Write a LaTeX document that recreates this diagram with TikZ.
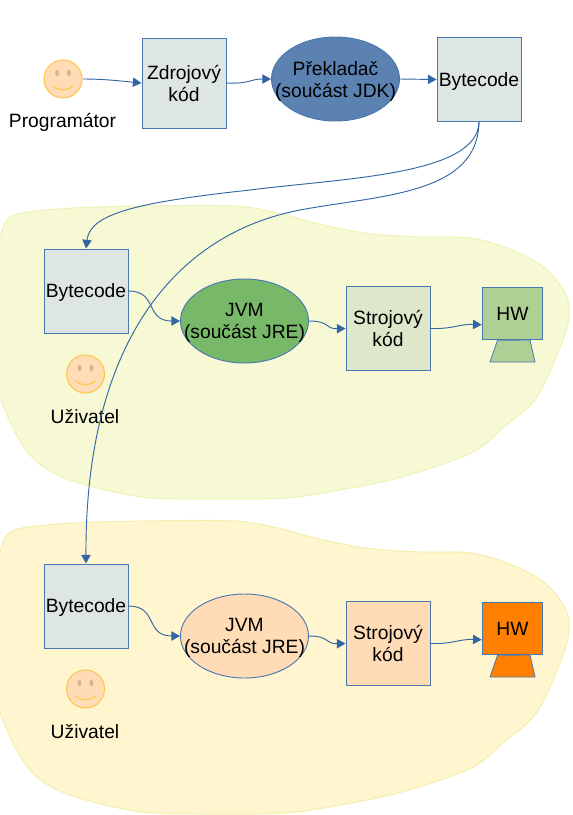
\documentclass[tikz,border=0pt]{standalone}
\usepackage{fontspec}
\setmainfont{Liberation Sans}
\usetikzlibrary{arrows.meta,shapes.geometric}
\definecolor{edgeblue}{HTML}{3465A4}
\definecolor{boxedge}{HTML}{4A78AE}
\definecolor{boxgrey}{HTML}{DEE6E5}
\definecolor{ellblue}{HTML}{5B82B0}
\definecolor{ellgreen}{HTML}{77B968}
\definecolor{hwgreen}{HTML}{AFD095}
\definecolor{sgreen}{HTML}{DDE8CB}
\definecolor{peach}{HTML}{FFDBB6}
\definecolor{hworange}{HTML}{FF8000}
\definecolor{blobA}{HTML}{F6F9D4}
\definecolor{blobAe}{HTML}{EEF3B8}
\definecolor{blobB}{HTML}{FFF5CE}
\definecolor{blobBe}{HTML}{F3EFB0}
\definecolor{facefill}{HTML}{FFDBB6}
\definecolor{faceedge}{HTML}{FFC64D}
\definecolor{eyecol}{HTML}{D8B48C}
\tikzset{
  x=0.75pt,y=-0.75pt,
  lab/.style={font=\fontsize{14.45pt}{16.5pt}\selectfont,align=center,text=black},
  sqbox/.style={lab,draw=boxedge,line width=0.7pt,minimum width=63pt,minimum height=63pt,inner sep=0pt},
  bytebox/.style={sqbox,fill=boxgrey,text height=13.3pt,text depth=3pt},
  ell/.style={ellipse,draw=boxedge,line width=0.7pt,minimum width=96pt,minimum height=63pt,inner sep=0pt},
  elltext/.style={lab,anchor=center,inner sep=0pt,yshift=-1.5pt},
  hw/.style={lab,draw=boxedge,line width=0.7pt,minimum width=45.5pt,minimum height=39.5pt,inner sep=0pt},
  conn/.style={draw=edgeblue,line width=0.7pt,-{Triangle[length=6.5pt,width=7pt]}},
  face/.style={circle,fill=facefill,draw=faceedge,line width=0.8pt,minimum size=28.5pt,inner sep=0pt},
  blobline/.style={line width=0.8pt},
  txt/.style={lab,inner sep=0pt}
}
\newcommand{\smiley}[3]{%
  \node[face] (#1) at (#2,#3) {};
  \fill[eyecol] (#2-6,#3-6) ellipse [x radius=1.9,y radius=3.2];
  \fill[eyecol] (#2+6,#3-6) ellipse [x radius=1.9,y radius=3.2];
  \draw[faceedge,line width=0.8pt] (#2-10,#3+7) .. controls (#2-4,#3+12) and (#2+4,#3+12) .. (#2+10,#3+7);
}
\newcommand{\blobshape}[1]{%
  plot[smooth cycle,tension=0.55] coordinates {
  (-12,#1+70) (0,#1+31) (7,#1+14) (22,#1+7) (73,#1+2) (146,#1+0) (234,#1+0) (278,#1+7) (311,#1+16)
  (365,#1+27) (420,#1+31) (471,#1+32) (512,#1+44) (545,#1+62) (565,#1+87) (569,#1+107) (563,#1+134)
  (537,#1+191) (504,#1+221) (471,#1+247) (402,#1+271) (340,#1+284) (285,#1+292) (201,#1+293)
  (135,#1+290) (62,#1+271) (26,#1+244) (0,#1+191) (-12,#1+130)}
}
\begin{document}
\begin{tikzpicture}
\useasboundingbox (0,0) rectangle (573,815);
\begin{scope}
  \clip (0,0) rectangle (573,815);
  \path[fill=blobA,draw=blobAe,blobline] \blobshape{206};
  \path[fill=blobB,draw=blobBe,blobline] \blobshape{521};
\end{scope}

% top row
\smiley{prog}{63}{79}
\node[txt] (progl) at (62.5,122) {Programátor};
\node[sqbox,fill=boxgrey,minimum height=67.5pt] (zdroj) at (184,83) {Zdrojový\\kód};
\node[ell,fill=ellblue,label={[elltext]center:Překladač\\(součást JDK)}] (prek) at (335.5,79) {};
\node[bytebox] (bc1) at (479,79.5) {Bytecode};

% middle group
\node[bytebox] (bc2) at (86,291) {Bytecode};
\node[ell,fill=ellgreen,label={[elltext]center:JVM\\(součást JRE)}] (jvm2) at (244.5,321) {};
\node[sqbox,fill=sgreen] (st2) at (388,328.5) {Strojový\\kód};
\node[hw,fill=hwgreen] (hw2) at (512.5,313.5) {HW};
\path[fill=hwgreen,draw=boxedge,line width=0.6pt] (hw2.south)+(-15,0) coordinate (a2) -- (490,362) -- (535,362) -- (530,340) -- cycle;
\smiley{u2}{85.5}{374}
\node[txt] (ul2) at (85,416.5) {Uživatel};

% bottom group
\node[bytebox] (bc3) at (86,606) {Bytecode};
\node[ell,fill=peach,label={[elltext]center:JVM\\(součást JRE)}] (jvm3) at (244.5,636) {};
\node[sqbox,fill=peach] (st3) at (388,643.5) {Strojový\\kód};
\node[hw,fill=hworange] (hw3) at (512.5,628.5) {HW};
\path[fill=hworange,draw=boxedge,line width=0.6pt] (hw3.south)+(-15,0) coordinate (a3) -- (490,677) -- (535,677) -- (530,655) -- cycle;
\smiley{u3}{85.5}{689}
\node[txt] (ul3) at (85,731.5) {Uživatel};

% connectors
\draw[conn] (prog.east) .. controls (105,79) and (120,81) .. (zdroj.west);
\draw[conn] (zdroj.east) .. controls (250,84) and (250,79) .. (prek.west);
\draw[conn] (prek.east) -- (bc1.west);
\draw[conn] (bc1.south) .. controls (478,175) and (345,178) .. (250,190) .. controls (130,203) and (90,215) .. (bc2.north);
\draw[conn] (bc1.south) .. controls (478,195) and (380,195) .. (300,210) .. controls (170,235) and (85,350) .. (bc3.north);
\draw[conn] (bc2.east) .. controls (158,291) and (145,321) .. (jvm2.west);
\draw[conn] (jvm2.east) .. controls (330,321) and (325,329) .. (st2.west);
\draw[conn] (st2.east) .. controls (455,329) and (458,324) .. ([yshift=-8.4pt]hw2.west);
\draw[conn] (bc3.east) .. controls (158,606) and (145,636) .. (jvm3.west);
\draw[conn] (jvm3.east) .. controls (330,636) and (325,644) .. (st3.west);
\draw[conn] (st3.east) .. controls (455,644) and (458,639) .. ([yshift=-8.4pt]hw3.west);
\end{tikzpicture}
\end{document}
